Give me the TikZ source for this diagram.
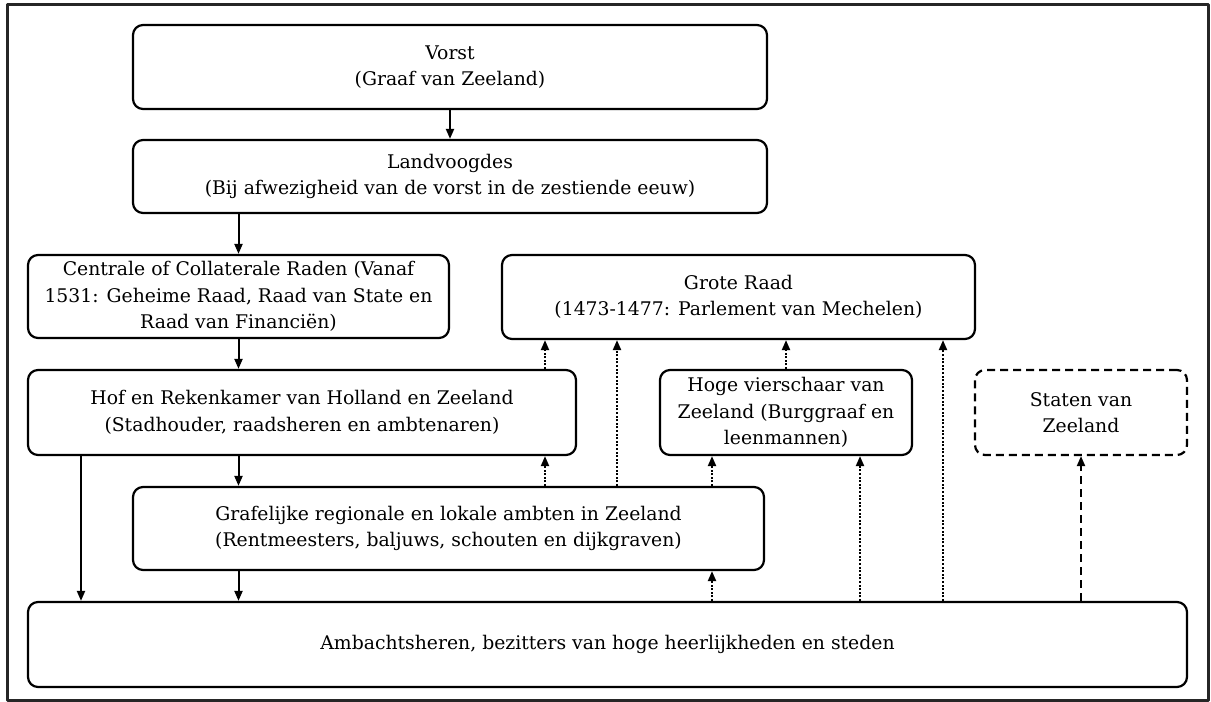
\documentclass[tikz,border=0pt]{standalone}
\usepackage{fontspec}
\setmainfont{DejaVu Serif}
\usetikzlibrary{arrows.meta}

\begin{document}
\begin{tikzpicture}[x=1bp,y=-1bp,line join=round,
  box/.style={draw,line width=2.2bp,rounded corners=10bp,align=center,inner sep=0pt,font=\fontsize{18.8bp}{26.5bp}\selectfont},
  dashbox/.style={box,dash pattern=on 8bp off 5bp},
  down/.style={line width=2bp,-{Triangle[length=10bp,width=8bp]}},
  up/.style={line width=2bp,dash pattern=on 2bp off 1.6bp,-{Triangle[length=10bp,width=8bp]}},
  updash/.style={line width=2bp,dash pattern=on 8bp off 5bp,-{Triangle[length=10bp,width=8bp]}}]
\path[use as bounding box] (0,0) rectangle (1211,702);
\draw[line width=3bp,black!85] (7,5) rectangle (1208,700);
\node[box,minimum width=634bp,minimum height=84bp] (vorst) at (450,67) {Vorst\\(Graaf van Zeeland)};
\node[box,minimum width=634bp,minimum height=73bp] (landvoogdes) at (450,176.5) {Landvoogdes\\(Bij afwezigheid van de vorst in de zestiende eeuw)};
\node[box,minimum width=421bp,minimum height=83bp] (centrale) at (238.5,296.5) {Centrale of Collaterale Raden (Vanaf\\1531: Geheime Raad, Raad van State en\\Raad van Financiën)};
\node[box,minimum width=473bp,minimum height=84bp] (groteraad) at (738.5,297) {Grote Raad\\(1473-1477: Parlement van Mechelen)};
\node[box,minimum width=548bp,minimum height=85bp] (hof) at (302,412.5) {Hof en Rekenkamer van Holland en Zeeland\\(Stadhouder, raadsheren en ambtenaren)};
\node[box,minimum width=252bp,minimum height=85bp] (hoge) at (786,412.5) {Hoge vierschaar van\\Zeeland (Burggraaf en\\leenmannen)};
\node[dashbox,minimum width=212bp,minimum height=85bp] (staten) at (1081,412.5) {Staten van\\Zeeland};
\node[box,minimum width=631bp,minimum height=83bp] (graf) at (448.5,528.5) {Grafelijke regionale en lokale ambten in Zeeland\\(Rentmeesters, baljuws, schouten en dijkgraven)};
\node[box,minimum width=1159bp,minimum height=85bp] (amb) at (607.5,644.5) {Ambachtsheren, bezitters van hoge heerlijkheden en steden};
\coordinate (xleft) at (81,0);
\coordinate (xa) at (545,0);
\coordinate (xb) at (617,0);
\coordinate (xc) at (712,0);
\coordinate (xd) at (860,0);
\coordinate (xe) at (943,0);
\draw[down] (vorst) -- (landvoogdes);
\draw[down] (landvoogdes.south -| centrale.north) -- (centrale.north);
\draw[down] (centrale.south) -- (hof.north -| centrale.south);
\draw[down] (hof.south -| centrale.south) -- (graf.north -| centrale.south);
\draw[down] (graf.south -| centrale.south) -- (amb.north -| centrale.south);
\draw[down] (hof.south -| xleft) -- (amb.north -| xleft);
\draw[up] (hof.north -| xa) -- (groteraad.south -| xa);
\draw[up] (graf.north -| xa) -- (hof.south -| xa);
\draw[up] (graf.north -| xb) -- (groteraad.south -| xb);
\draw[up] (hoge.north) -- (groteraad.south -| hoge.north);
\draw[up] (graf.north -| xc) -- (hoge.south -| xc);
\draw[up] (amb.north -| xc) -- (graf.south -| xc);
\draw[up] (amb.north -| xd) -- (hoge.south -| xd);
\draw[up] (amb.north -| xe) -- (groteraad.south -| xe);
\draw[updash] (amb.north -| staten.south) -- (staten.south);
\end{tikzpicture}
\end{document}
